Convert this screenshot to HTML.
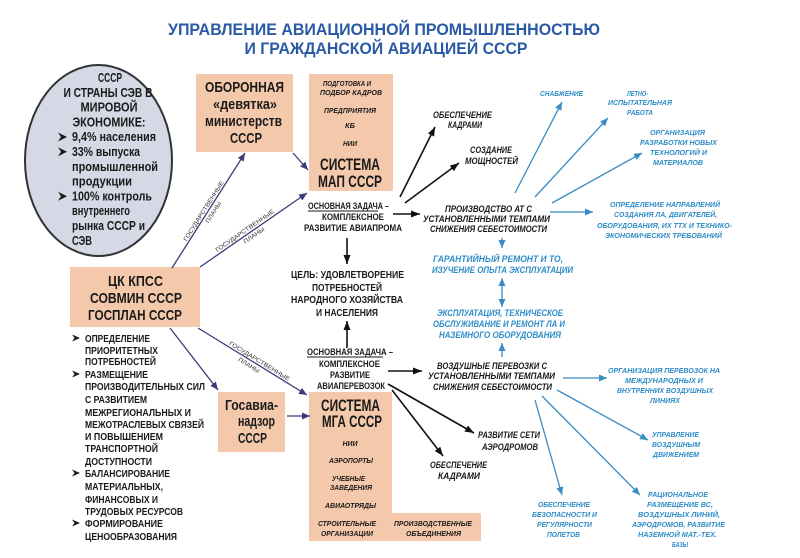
<!DOCTYPE html>
<html>
<head>
<meta charset="utf-8">
<style>
html,body{margin:0;padding:0;background:#fff;}
body{width:800px;height:558px;overflow:hidden;}
svg{display:block;}
text{font-family:"Liberation Sans","DejaVu Sans",sans-serif;font-weight:bold;fill:#1a1a1a;}
.t{fill:#2a5aa5;font-size:17px;}
.ov{font-size:12.5px;}
.bx{font-size:15px;}
.big{font-size:17px;}
.sm{font-size:7.5px;font-style:italic;}
.tk{font-size:9.5px;}
.it{font-size:9px;font-style:italic;}
.bl{font-size:7.5px;font-style:italic;fill:#2e8cc8;}
.bl9{font-size:9px;font-style:italic;fill:#2e8cc8;}
.li{font-size:10px;}
.gp{font-size:6px;fill:#333;font-weight:normal;}
</style>
</head>
<body>
<svg width="800" height="558" viewBox="0 0 800 558" xmlns="http://www.w3.org/2000/svg">
<defs>
<marker id="mn" markerUnits="userSpaceOnUse" markerWidth="8" markerHeight="7" refX="8" refY="3.5" orient="auto"><path d="M0,0 L8,3.5 L0,7 z" fill="#3a3d78"/></marker>
<marker id="mk" markerUnits="userSpaceOnUse" markerWidth="9" markerHeight="7" refX="9" refY="3.5" orient="auto"><path d="M0,0 L9,3.5 L0,7 z" fill="#111"/></marker>
<marker id="mb" markerUnits="userSpaceOnUse" markerWidth="8" markerHeight="7" refX="8" refY="3.5" orient="auto-start-reverse"><path d="M0,0 L8,3.5 L0,7 z" fill="#3a8cc2"/></marker>
</defs>

<!-- Title -->
<text class="t" x="384" y="35" text-anchor="middle" textLength="432" lengthAdjust="spacingAndGlyphs">УПРАВЛЕНИЕ АВИАЦИОННОЙ ПРОМЫШЛЕННОСТЬЮ</text>
<text class="t" x="386" y="54" text-anchor="middle" textLength="283" lengthAdjust="spacingAndGlyphs">И ГРАЖДАНСКОЙ АВИАЦИЕЙ СССР</text>

<!-- Oval -->
<ellipse cx="98.5" cy="160.5" rx="73.5" ry="95.5" fill="#d5d8e5" stroke="#333" stroke-width="2"/>
<text class="ov" x="110" y="82" text-anchor="middle" textLength="24" lengthAdjust="spacingAndGlyphs">СССР</text>
<text class="ov" x="108" y="96.8" text-anchor="middle" textLength="89" lengthAdjust="spacingAndGlyphs">И СТРАНЫ СЭВ В</text>
<text class="ov" x="109" y="111.6" text-anchor="middle" textLength="57" lengthAdjust="spacingAndGlyphs">МИРОВОЙ</text>
<text class="ov" x="109" y="126.4" text-anchor="middle" textLength="73" lengthAdjust="spacingAndGlyphs">ЭКОНОМИКЕ:</text>
<text class="ov" x="72" y="141.2" textLength="84" lengthAdjust="spacingAndGlyphs">9,4% населения</text>
<text class="ov" x="72" y="156" textLength="68" lengthAdjust="spacingAndGlyphs">33% выпуска</text>
<text class="ov" x="72" y="170.8" textLength="86" lengthAdjust="spacingAndGlyphs">промышленной</text>
<text class="ov" x="72" y="185.6" textLength="60" lengthAdjust="spacingAndGlyphs">продукции</text>
<text class="ov" x="72" y="200.4" textLength="80" lengthAdjust="spacingAndGlyphs">100% контроль</text>
<text class="ov" x="72" y="215.2" textLength="58" lengthAdjust="spacingAndGlyphs">внутреннего</text>
<text class="ov" x="72" y="230" textLength="73" lengthAdjust="spacingAndGlyphs">рынка СССР и</text>
<text class="ov" x="72" y="244.8" textLength="20" lengthAdjust="spacingAndGlyphs">СЭВ</text>
<g fill="#1a1a1a">
<path d="M58,132.5 L67,137 L58,141.5 L61,137 z"/>
<path d="M58,147.3 L67,151.8 L58,156.3 L61,151.8 z"/>
<path d="M58,191.7 L67,196.2 L58,200.7 L61,196.2 z"/>
</g>

<!-- ОБОРОННАЯ box -->
<rect x="196" y="74" width="97" height="78" fill="#f4c8aa"/>
<text class="bx" x="244.5" y="92" text-anchor="middle" textLength="79" lengthAdjust="spacingAndGlyphs">ОБОРОННАЯ</text>
<text class="bx" x="245" y="109" text-anchor="middle" textLength="64" lengthAdjust="spacingAndGlyphs">«девятка»</text>
<text class="bx" x="243.5" y="126" text-anchor="middle" textLength="77" lengthAdjust="spacingAndGlyphs">министерств</text>
<text class="bx" x="246" y="143" text-anchor="middle" textLength="32" lengthAdjust="spacingAndGlyphs">СССР</text>

<!-- МАП box -->
<rect x="309" y="74" width="84" height="117" fill="#f4c8aa"/>
<text class="sm" x="347" y="86" text-anchor="middle" textLength="48" lengthAdjust="spacingAndGlyphs">ПОДГОТОВКА И</text>
<text class="sm" x="351" y="95" text-anchor="middle" textLength="62" lengthAdjust="spacingAndGlyphs">ПОДБОР КАДРОВ</text>
<text class="sm" x="350" y="113" text-anchor="middle" textLength="52" lengthAdjust="spacingAndGlyphs">ПРЕДПРИЯТИЯ</text>
<text class="sm" x="350" y="128" text-anchor="middle" textLength="10" lengthAdjust="spacingAndGlyphs">КБ</text>
<text class="sm" x="350" y="146" text-anchor="middle" textLength="14" lengthAdjust="spacingAndGlyphs">НИИ</text>
<text class="big" x="350" y="170" text-anchor="middle" textLength="60" lengthAdjust="spacingAndGlyphs">СИСТЕМА</text>
<text class="big" x="350" y="187" text-anchor="middle" textLength="64" lengthAdjust="spacingAndGlyphs">МАП СССР</text>

<!-- Task 1 -->
<text class="tk" x="348.5" y="209" text-anchor="middle" textLength="81" lengthAdjust="spacingAndGlyphs">ОСНОВНАЯ ЗАДАЧА –</text>
<line x1="308" y1="211" x2="378" y2="211" stroke="#1a1a1a" stroke-width="1"/>
<text class="tk" x="353" y="220" text-anchor="middle" textLength="62" lengthAdjust="spacingAndGlyphs">КОМПЛЕКСНОЕ</text>
<text class="tk" x="353" y="231" text-anchor="middle" textLength="98" lengthAdjust="spacingAndGlyphs">РАЗВИТИЕ АВИАПРОМА</text>

<!-- Goal -->
<text class="li" x="347.5" y="278" text-anchor="middle" textLength="113" lengthAdjust="spacingAndGlyphs">ЦЕЛЬ: УДОВЛЕТВОРЕНИЕ</text>
<text class="li" x="347" y="291" text-anchor="middle" textLength="70" lengthAdjust="spacingAndGlyphs">ПОТРЕБНОСТЕЙ</text>
<text class="li" x="347" y="303" text-anchor="middle" textLength="112" lengthAdjust="spacingAndGlyphs">НАРОДНОГО ХОЗЯЙСТВА</text>
<text class="li" x="347" y="316" text-anchor="middle" textLength="62" lengthAdjust="spacingAndGlyphs">И НАСЕЛЕНИЯ</text>

<!-- Task 2 -->
<text class="tk" x="350" y="355" text-anchor="middle" textLength="86" lengthAdjust="spacingAndGlyphs">ОСНОВНАЯ ЗАДАЧА –</text>
<line x1="307" y1="357" x2="383" y2="357" stroke="#1a1a1a" stroke-width="1"/>
<text class="tk" x="349.5" y="367" text-anchor="middle" textLength="61" lengthAdjust="spacingAndGlyphs">КОМПЛЕКСНОЕ</text>
<text class="tk" x="350" y="378" text-anchor="middle" textLength="40" lengthAdjust="spacingAndGlyphs">РАЗВИТИЕ</text>
<text class="tk" x="351" y="389" text-anchor="middle" textLength="68" lengthAdjust="spacingAndGlyphs">АВИАПЕРЕВОЗОК</text>

<!-- ЦК box -->
<rect x="70" y="267" width="130" height="60" fill="#f4c8aa"/>
<text class="bx" x="135.5" y="286" text-anchor="middle" textLength="55" lengthAdjust="spacingAndGlyphs">ЦК КПСС</text>
<text class="bx" x="136" y="303" text-anchor="middle" textLength="92" lengthAdjust="spacingAndGlyphs">СОВМИН СССР</text>
<text class="bx" x="135" y="320" text-anchor="middle" textLength="94" lengthAdjust="spacingAndGlyphs">ГОСПЛАН СССР</text>

<!-- Bullet list -->
<g fill="#1a1a1a">
<path d="M72,334.5 L80,338 L72,341.5 L74.5,338 z"/>
<path d="M72,370.5 L80,374 L72,377.5 L74.5,374 z"/>
<path d="M72,469.5 L80,473 L72,476.5 L74.5,473 z"/>
<path d="M72,519.5 L80,523 L72,526.5 L74.5,523 z"/>
</g>
<text class="li" x="85" y="342" textLength="65" lengthAdjust="spacingAndGlyphs">ОПРЕДЕЛЕНИЕ</text>
<text class="li" x="85" y="354" textLength="73" lengthAdjust="spacingAndGlyphs">ПРИОРИТЕТНЫХ</text>
<text class="li" x="85" y="365" textLength="71" lengthAdjust="spacingAndGlyphs">ПОТРЕБНОСТЕЙ</text>
<text class="li" x="85" y="378" textLength="63" lengthAdjust="spacingAndGlyphs">РАЗМЕЩЕНИЕ</text>
<text class="li" x="85" y="390" textLength="120" lengthAdjust="spacingAndGlyphs">ПРОИЗВОДИТЕЛЬНЫХ СИЛ</text>
<text class="li" x="85" y="403" textLength="62" lengthAdjust="spacingAndGlyphs">С РАЗВИТИЕМ</text>
<text class="li" x="85" y="416" textLength="106" lengthAdjust="spacingAndGlyphs">МЕЖРЕГИОНАЛЬНЫХ И</text>
<text class="li" x="85" y="428" textLength="119" lengthAdjust="spacingAndGlyphs">МЕЖОТРАСЛЕВЫХ СВЯЗЕЙ</text>
<text class="li" x="85" y="440" textLength="78" lengthAdjust="spacingAndGlyphs">И ПОВЫШЕНИЕМ</text>
<text class="li" x="85" y="452" textLength="73" lengthAdjust="spacingAndGlyphs">ТРАНСПОРТНОЙ</text>
<text class="li" x="85" y="465" textLength="67" lengthAdjust="spacingAndGlyphs">ДОСТУПНОСТИ</text>
<text class="li" x="85" y="477" textLength="85" lengthAdjust="spacingAndGlyphs">БАЛАНСИРОВАНИЕ</text>
<text class="li" x="85" y="490" textLength="78" lengthAdjust="spacingAndGlyphs">МАТЕРИАЛЬНЫХ,</text>
<text class="li" x="85" y="503" textLength="73" lengthAdjust="spacingAndGlyphs">ФИНАНСОВЫХ И</text>
<text class="li" x="85" y="515" textLength="98" lengthAdjust="spacingAndGlyphs">ТРУДОВЫХ РЕСУРСОВ</text>
<text class="li" x="85" y="527" textLength="78" lengthAdjust="spacingAndGlyphs">ФОРМИРОВАНИЕ</text>
<text class="li" x="85" y="540" textLength="92" lengthAdjust="spacingAndGlyphs">ЦЕНООБРАЗОВАНИЯ</text>

<!-- Госавиа box -->
<rect x="218" y="392" width="67" height="60" fill="#f4c8aa"/>
<text class="bx" x="251.5" y="410" text-anchor="middle" textLength="53" lengthAdjust="spacingAndGlyphs">Госавиа-</text>
<text class="bx" x="256.5" y="426" text-anchor="middle" textLength="37" lengthAdjust="spacingAndGlyphs">надзор</text>
<text class="bx" x="252.5" y="443" text-anchor="middle" textLength="29" lengthAdjust="spacingAndGlyphs">СССР</text>

<!-- МГА box -->
<polygon points="309,392 392,392 392,513 481,513 481,541 309,541" fill="#f4c8aa"/>
<text class="big" x="350.5" y="411" text-anchor="middle" textLength="59" lengthAdjust="spacingAndGlyphs">СИСТЕМА</text>
<text class="big" x="352" y="427" text-anchor="middle" textLength="60" lengthAdjust="spacingAndGlyphs">МГА СССР</text>
<text class="sm" x="350" y="446" text-anchor="middle" textLength="15" lengthAdjust="spacingAndGlyphs">НИИ</text>
<text class="sm" x="351" y="463" text-anchor="middle" textLength="44" lengthAdjust="spacingAndGlyphs">АЭРОПОРТЫ</text>
<text class="sm" x="348.5" y="481" text-anchor="middle" textLength="33" lengthAdjust="spacingAndGlyphs">УЧЕБНЫЕ</text>
<text class="sm" x="351" y="490" text-anchor="middle" textLength="42" lengthAdjust="spacingAndGlyphs">ЗАВЕДЕНИЯ</text>
<text class="sm" x="350.5" y="508" text-anchor="middle" textLength="51" lengthAdjust="spacingAndGlyphs">АВИАОТРЯДЫ</text>
<text class="sm" x="347" y="526" text-anchor="middle" textLength="58" lengthAdjust="spacingAndGlyphs">СТРОИТЕЛЬНЫЕ</text>
<text class="sm" x="347" y="536" text-anchor="middle" textLength="52" lengthAdjust="spacingAndGlyphs">ОРГАНИЗАЦИИ</text>
<text class="sm" x="433" y="526" text-anchor="middle" textLength="78" lengthAdjust="spacingAndGlyphs">ПРОИЗВОДСТВЕННЫЕ</text>
<text class="sm" x="433.5" y="536" text-anchor="middle" textLength="55" lengthAdjust="spacingAndGlyphs">ОБЪЕДИНЕНИЯ</text>

<!-- Black italic texts -->
<text class="it" x="462.5" y="118" text-anchor="middle" textLength="59" lengthAdjust="spacingAndGlyphs">ОБЕСПЕЧЕНИЕ</text>
<text class="it" x="465" y="128" text-anchor="middle" textLength="34" lengthAdjust="spacingAndGlyphs">КАДРАМИ</text>
<text class="it" x="491" y="153" text-anchor="middle" textLength="42" lengthAdjust="spacingAndGlyphs">СОЗДАНИЕ</text>
<text class="it" x="491.5" y="164" text-anchor="middle" textLength="53" lengthAdjust="spacingAndGlyphs">МОЩНОСТЕЙ</text>
<text class="it" x="488.5" y="212" text-anchor="middle" textLength="87" lengthAdjust="spacingAndGlyphs">ПРОИЗВОДСТВО АТ С</text>
<text class="it" x="486.5" y="222" text-anchor="middle" textLength="127" lengthAdjust="spacingAndGlyphs">УСТАНОВЛЕННЫМИ ТЕМПАМИ</text>
<text class="it" x="488.5" y="232" text-anchor="middle" textLength="117" lengthAdjust="spacingAndGlyphs">СНИЖЕНИЯ СЕБЕСТОИМОСТИ</text>
<text class="it" x="492" y="369" text-anchor="middle" textLength="110" lengthAdjust="spacingAndGlyphs">ВОЗДУШНЫЕ ПЕРЕВОЗКИ С</text>
<text class="it" x="491.5" y="379" text-anchor="middle" textLength="127" lengthAdjust="spacingAndGlyphs">УСТАНОВЛЕННЫМИ ТЕМПАМИ</text>
<text class="it" x="492.5" y="390" text-anchor="middle" textLength="119" lengthAdjust="spacingAndGlyphs">СНИЖЕНИЯ СЕБЕСТОИМОСТИ</text>
<text class="it" x="509" y="438" text-anchor="middle" textLength="62" lengthAdjust="spacingAndGlyphs">РАЗВИТИЕ СЕТИ</text>
<text class="it" x="510" y="450" text-anchor="middle" textLength="56" lengthAdjust="spacingAndGlyphs">АЭРОДРОМОВ</text>
<text class="it" x="458.5" y="468" text-anchor="middle" textLength="57" lengthAdjust="spacingAndGlyphs">ОБЕСПЕЧЕНИЕ</text>
<text class="it" x="459" y="479" text-anchor="middle" textLength="42" lengthAdjust="spacingAndGlyphs">КАДРАМИ</text>

<!-- Blue texts -->
<text class="bl" x="561.5" y="96" text-anchor="middle" textLength="43" lengthAdjust="spacingAndGlyphs">СНАБЖЕНИЕ</text>
<text class="bl" x="637.5" y="96" text-anchor="middle" textLength="21" lengthAdjust="spacingAndGlyphs">ЛЕТНО-</text>
<text class="bl" x="640" y="105" text-anchor="middle" textLength="64" lengthAdjust="spacingAndGlyphs">ИСПЫТАТЕЛЬНАЯ</text>
<text class="bl" x="640" y="115" text-anchor="middle" textLength="26" lengthAdjust="spacingAndGlyphs">РАБОТА</text>
<text class="bl" x="677.5" y="135" text-anchor="middle" textLength="55" lengthAdjust="spacingAndGlyphs">ОРГАНИЗАЦИЯ</text>
<text class="bl" x="678.5" y="145" text-anchor="middle" textLength="77" lengthAdjust="spacingAndGlyphs">РАЗРАБОТКИ НОВЫХ</text>
<text class="bl" x="678.5" y="155" text-anchor="middle" textLength="57" lengthAdjust="spacingAndGlyphs">ТЕХНОЛОГИЙ И</text>
<text class="bl" x="678" y="165" text-anchor="middle" textLength="50" lengthAdjust="spacingAndGlyphs">МАТЕРИАЛОВ</text>
<text class="bl" x="665" y="207" text-anchor="middle" textLength="110" lengthAdjust="spacingAndGlyphs">ОПРЕДЕЛЕНИЕ НАПРАВЛЕНИЙ</text>
<text class="bl" x="665.5" y="217" text-anchor="middle" textLength="103" lengthAdjust="spacingAndGlyphs">СОЗДАНИЯ ЛА, ДВИГАТЕЛЕЙ,</text>
<text class="bl" x="664.5" y="228" text-anchor="middle" textLength="135" lengthAdjust="spacingAndGlyphs">ОБОРУДОВАНИЯ, ИХ ТТХ И ТЕХНИКО-</text>
<text class="bl" x="663.5" y="238" text-anchor="middle" textLength="117" lengthAdjust="spacingAndGlyphs">ЭКОНОМИЧЕСКИХ ТРЕБОВАНИЙ</text>
<text class="bl9" x="498" y="262" text-anchor="middle" textLength="130" lengthAdjust="spacingAndGlyphs">ГАРАНТИЙНЫЙ РЕМОНТ И ТО,</text>
<text class="bl9" x="502.5" y="273" text-anchor="middle" textLength="141" lengthAdjust="spacingAndGlyphs">ИЗУЧЕНИЕ ОПЫТА ЭКСПЛУАТАЦИИ</text>
<text class="bl9" x="500" y="316" text-anchor="middle" textLength="126" lengthAdjust="spacingAndGlyphs">ЭКСПЛУАТАЦИЯ, ТЕХНИЧЕСКОЕ</text>
<text class="bl9" x="499" y="327" text-anchor="middle" textLength="132" lengthAdjust="spacingAndGlyphs">ОБСЛУЖИВАНИЕ И РЕМОНТ ЛА И</text>
<text class="bl9" x="500" y="338" text-anchor="middle" textLength="122" lengthAdjust="spacingAndGlyphs">НАЗЕМНОГО ОБОРУДОВАНИЯ</text>
<text class="bl" x="664" y="373" text-anchor="middle" textLength="112" lengthAdjust="spacingAndGlyphs">ОРГАНИЗАЦИЯ ПЕРЕВОЗОК НА</text>
<text class="bl" x="664" y="383" text-anchor="middle" textLength="78" lengthAdjust="spacingAndGlyphs">МЕЖДУНАРОДНЫХ И</text>
<text class="bl" x="665" y="393" text-anchor="middle" textLength="96" lengthAdjust="spacingAndGlyphs">ВНУТРЕННИХ ВОЗДУШНЫХ</text>
<text class="bl" x="665" y="403" text-anchor="middle" textLength="30" lengthAdjust="spacingAndGlyphs">ЛИНИЯХ</text>
<text class="bl" x="675.5" y="437" text-anchor="middle" textLength="47" lengthAdjust="spacingAndGlyphs">УПРАВЛЕНИЕ</text>
<text class="bl" x="676" y="447" text-anchor="middle" textLength="48" lengthAdjust="spacingAndGlyphs">ВОЗДУШНЫМ</text>
<text class="bl" x="676" y="457" text-anchor="middle" textLength="46" lengthAdjust="spacingAndGlyphs">ДВИЖЕНИЕМ</text>
<text class="bl" x="678" y="497" text-anchor="middle" textLength="60" lengthAdjust="spacingAndGlyphs">РАЦИОНАЛЬНОЕ</text>
<text class="bl" x="680" y="507" text-anchor="middle" textLength="66" lengthAdjust="spacingAndGlyphs">РАЗМЕЩЕНИЕ ВС,</text>
<text class="bl" x="679" y="517" text-anchor="middle" textLength="82" lengthAdjust="spacingAndGlyphs">ВОЗДУШНЫХ ЛИНИЙ,</text>
<text class="bl" x="678.5" y="527" text-anchor="middle" textLength="93" lengthAdjust="spacingAndGlyphs">АЭРОДРОМОВ, РАЗВИТИЕ</text>
<text class="bl" x="677.5" y="537" text-anchor="middle" textLength="79" lengthAdjust="spacingAndGlyphs">НАЗЕМНОЙ МАТ.-ТЕХ.</text>
<text class="bl" x="680" y="547" text-anchor="middle" textLength="16" lengthAdjust="spacingAndGlyphs">БАЗЫ</text>
<text class="bl" x="564" y="507" text-anchor="middle" textLength="52" lengthAdjust="spacingAndGlyphs">ОБЕСПЕЧЕНИЕ</text>
<text class="bl" x="564.5" y="517" text-anchor="middle" textLength="65" lengthAdjust="spacingAndGlyphs">БЕЗОПАСНОСТИ И</text>
<text class="bl" x="564.5" y="527" text-anchor="middle" textLength="55" lengthAdjust="spacingAndGlyphs">РЕГУЛЯРНОСТИ</text>
<text class="bl" x="563.5" y="537" text-anchor="middle" textLength="33" lengthAdjust="spacingAndGlyphs">ПОЛЕТОВ</text>

<!-- Navy arrows -->
<g stroke="#3a3d78" stroke-width="1.3" fill="none" marker-end="url(#mn)">
<line x1="172" y1="268" x2="245" y2="153"/>
<line x1="200" y1="267" x2="307" y2="193"/>
<line x1="293" y1="153" x2="308" y2="170"/>
<line x1="170" y1="328" x2="218" y2="390"/>
<line x1="198" y1="328" x2="307" y2="395"/>
<line x1="287" y1="416" x2="310" y2="416"/>
</g>

<!-- State plan labels -->
<g transform="translate(207,213) rotate(-57.6)">
<text class="gp" x="0" y="-2" text-anchor="middle" textLength="70" lengthAdjust="spacingAndGlyphs">ГОСУДАРСТВЕННЫЕ</text>
<text class="gp" x="4" y="7" text-anchor="middle" textLength="24" lengthAdjust="spacingAndGlyphs">ПЛАНЫ</text>
</g>
<g transform="translate(247,234) rotate(-34.7)">
<text class="gp" x="0" y="-2" text-anchor="middle" textLength="70" lengthAdjust="spacingAndGlyphs">ГОСУДАРСТВЕННЫЕ</text>
<text class="gp" x="5" y="7" text-anchor="middle" textLength="24" lengthAdjust="spacingAndGlyphs">ПЛАНЫ</text>
</g>
<g transform="translate(255,363) rotate(31.6)">
<text class="gp" x="3" y="-2" text-anchor="middle" textLength="70" lengthAdjust="spacingAndGlyphs">ГОСУДАРСТВЕННЫЕ</text>
<text class="gp" x="-4" y="7" text-anchor="middle" textLength="24" lengthAdjust="spacingAndGlyphs">ПЛАНЫ</text>
</g>

<!-- Black arrows -->
<g stroke="#111" stroke-width="1.6" fill="none" marker-end="url(#mk)">
<line x1="400" y1="197" x2="435" y2="127"/>
<line x1="405" y1="203" x2="459" y2="163"/>
<line x1="393" y1="214" x2="420" y2="214"/>
<line x1="347" y1="238" x2="347" y2="264"/>
<line x1="347" y1="348" x2="347" y2="321"/>
<line x1="388" y1="371" x2="422" y2="371"/>
<line x1="388" y1="384" x2="474" y2="433"/>
<line x1="392" y1="390" x2="443" y2="456"/>
</g>

<!-- Blue arrows -->
<g stroke="#3a8cc2" stroke-width="1.3" fill="none" marker-end="url(#mb)">
<line x1="515" y1="193" x2="562" y2="102"/>
<line x1="535" y1="197" x2="608" y2="118"/>
<line x1="552" y1="203" x2="642" y2="153"/>
<line x1="550" y1="212" x2="593" y2="212"/>
<line x1="502" y1="238" x2="502" y2="248"/>
<line x1="502" y1="278" x2="502" y2="307" marker-start="url(#mb)"/>
<line x1="502" y1="357" x2="502" y2="343"/>
<line x1="563" y1="378" x2="607" y2="378"/>
<line x1="557" y1="390" x2="648" y2="440"/>
<line x1="542" y1="396" x2="640" y2="495"/>
<line x1="535" y1="400" x2="562" y2="495"/>
</g>
</svg>
</body>
</html>
